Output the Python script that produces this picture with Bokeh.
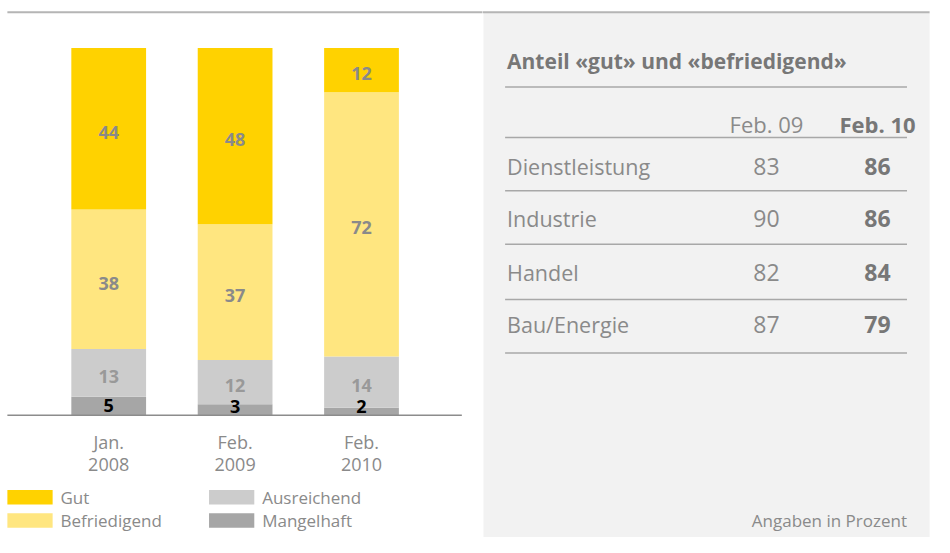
from bokeh.plotting import figure
from bokeh.models import ColumnDataSource, Range1d
from bokeh.layouts import row
from bokeh.core.properties import value
from bokeh.embed import file_html
from bokeh.resources import INLINE

# ---------------- data ----------------
categories = ["Jan. 2008", "Feb. 2009", "Feb. 2010"]
cat_line1 = ["Jan.", "Feb.", "Feb."]
cat_line2 = ["2008", "2009", "2010"]
mangelhaft = [5, 3, 2]
ausreichend = [13, 12, 14]
befriedigend = [38, 37, 72]
gut = [44, 48, 12]
series = ["Mangelhaft", "Ausreichend", "Befriedigend", "Gut"]
series_colors = ["#a6a6a6", "#cccccc", "#ffe680", "#ffd200"]

table_title = "Anteil «gut» und «befriedigend»"
table_cols = ["Feb. 09", "Feb. 10"]
branches = ["Dienstleistung", "Industrie", "Handel", "Bau/Energie"]
feb09 = [83, 90, 82, 87]
feb10 = [86, 86, 84, 79]
note = "Angaben in Prozent"

FONT = "Open Sans"
GREY_TXT = "#8a8a8a"
DARK_TXT = "#777777"

# total canvas 934 x 537 representing a 950 x 553 design
REF_W, REF_H = 950, 553
W, H = 934, 537
SPLIT = 490                       # design x where the panel area starts
LW = round(SPLIT * W / REF_W)
RW = W - LW

# ---------------- left: stacked bars ----------------
UNIT_X = 128.5          # design px per category
X0 = 110                # design px of first bar centre
BASE = 427              # design px of baseline
UNIT_Y = 3.78           # design px per percent


def lx(px):
    return (px - X0) / UNIT_X


def ly(py):
    return (BASE - py) / UNIT_Y


left = figure(width=LW, height=H, output_backend="svg", toolbar_location=None,
              x_range=Range1d(lx(0), lx(SPLIT)), y_range=Range1d(ly(REF_H), ly(0)),
              x_axis_type=None, y_axis_type=None, min_border=0,
              outline_line_color=None, background_fill_color="white",
              border_fill_color="white")
left.grid.visible = False

xs = list(range(len(categories)))
src = ColumnDataSource(dict(x=xs, Mangelhaft=mangelhaft, Ausreichend=ausreichend,
                            Befriedigend=befriedigend, Gut=gut))
left.vbar_stack(series, x="x", width=76 / UNIT_X, color=series_colors,
                line_color=None, source=src)

# value labels
lab_x, lab_y, lab_t, lab_c = [], [], [], []
stacks = [mangelhaft, ausreichend, befriedigend, gut]
label_colors = ["#000000", "#999999", GREY_TXT, GREY_TXT]
for i in xs:
    base = 0
    for s, vals in enumerate(stacks):
        v = vals[i]
        mid = base + v / 2
        if s == 0:
            mid = max(mid, 2.4)
        else:
            mid = mid - 1.0
        lab_x.append(i)
        lab_y.append(mid)
        lab_t.append(str(v))
        lab_c.append(label_colors[s])
        base += v
left.text(x=lab_x, y=lab_y, text=lab_t, text_color=lab_c,
          text_font=value(FONT), text_font_style="bold", text_font_size="18px",
          text_align="center", text_baseline="middle")

# baseline and top rule
left.segment(x0=[lx(7)], y0=[0], x1=[lx(469)], y1=[0], line_color="#8c8c8c", line_width=1.5)
left.segment(x0=[lx(7)], y0=[ly(12)], x1=[lx(SPLIT + 2)], y1=[ly(12)],
             line_color="#b5b5b5", line_width=2)

# category labels
left.text(x=xs, y=[ly(455)] * 3, text=cat_line1, text_color=GREY_TXT,
          text_font=value(FONT), text_font_size="18px",
          text_align="center", text_baseline="middle")
left.text(x=xs, y=[ly(478)] * 3, text=cat_line2, text_color=GREY_TXT,
          text_font=value(FONT), text_font_size="18px",
          text_align="center", text_baseline="middle")

# legend (manual)
leg_order = ["Gut", "Befriedigend", "Ausreichend", "Mangelhaft"]
leg_cols = [series_colors[series.index(n)] for n in leg_order]
leg_left = [7, 7, 212, 212]
leg_top = [504, 528, 504, 528]
left.quad(left=[lx(v) for v in leg_left], right=[lx(v + 46) for v in leg_left],
          top=[ly(v) for v in leg_top], bottom=[ly(v + 15) for v in leg_top],
          fill_color=leg_cols, line_color=None)
left.text(x=[lx(v + 54) for v in leg_left], y=[ly(v + 8) for v in leg_top],
          text=leg_order, text_color=GREY_TXT, text_font=value(FONT),
          text_font_size="17px", text_align="left", text_baseline="middle")

# ---------------- right: table panel ----------------
right = figure(width=RW, height=H, output_backend="svg", toolbar_location=None,
               x_range=Range1d(SPLIT, REF_W), y_range=Range1d(REF_H, 0),
               x_axis_type=None, y_axis_type=None, min_border=0,
               outline_line_color=None, background_fill_color="white",
               border_fill_color="white")
right.grid.visible = False

right.quad(left=[491], right=[945], top=[13], bottom=[REF_H + 10],
           fill_color="#f2f2f2", line_color=None)
right.segment(x0=[SPLIT - 2], y0=[12], x1=[945], y1=[12], line_color="#b5b5b5", line_width=2)

right.text(x=[515], y=[62], text=[table_title], text_color=DARK_TXT,
           text_font=value(FONT), text_font_style="bold", text_font_size="21px",
           text_align="left", text_baseline="middle")

rule_y = [89, 141, 196, 251, 308, 363]
right.segment(x0=[513] * len(rule_y), y0=rule_y, x1=[922] * len(rule_y), y1=rule_y,
              line_color="#a8a8a8", line_width=1.5)

col_x = [779, 892]
right.text(x=[col_x[0]], y=[127], text=[table_cols[0]], text_color=GREY_TXT,
           text_font=value(FONT), text_font_size="22px",
           text_align="center", text_baseline="middle")
right.text(x=[col_x[1]], y=[127], text=[table_cols[1]], text_color=DARK_TXT,
           text_font=value(FONT), text_font_style="bold", text_font_size="22px",
           text_align="center", text_baseline="middle")

row_y = [171, 225, 280, 334]
right.text(x=[515] * 4, y=row_y, text=branches, text_color=GREY_TXT,
           text_font=value(FONT), text_font_size="21.5px",
           text_align="left", text_baseline="middle")
right.text(x=[col_x[0]] * 4, y=row_y, text=[str(v) for v in feb09], text_color=GREY_TXT,
           text_font=value(FONT), text_font_size="23px",
           text_align="center", text_baseline="middle")
right.text(x=[col_x[1]] * 4, y=row_y, text=[str(v) for v in feb10], text_color=DARK_TXT,
           text_font=value(FONT), text_font_style="bold", text_font_size="23px",
           text_align="center", text_baseline="middle")

right.text(x=[922], y=[536], text=[note], text_color=GREY_TXT,
           text_font=value(FONT), text_font_size="17px",
           text_align="right", text_baseline="middle")

layout = row(left, right, spacing=0)
open("out.html", "w").write(file_html(layout, INLINE))
